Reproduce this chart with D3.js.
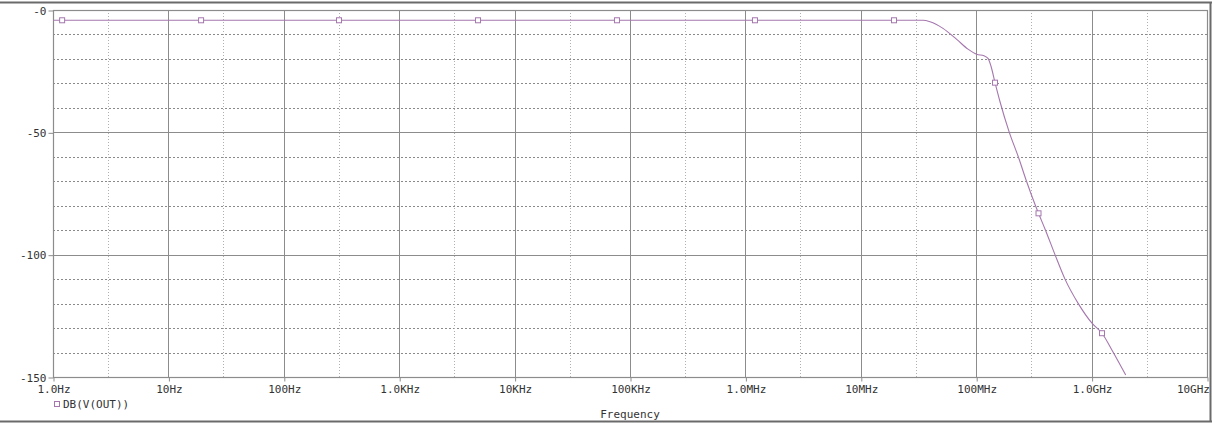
<!DOCTYPE html>
<html>
<head>
<meta charset="utf-8">
<script src="https://cdn.jsdelivr.net/npm/d3@7/dist/d3.min.js"></script>
<style>
  html, body { margin: 0; padding: 0; background: #fff; }
  svg { display: block; }
  text { font-family: "DejaVu Sans Mono", "Liberation Mono", monospace; fill: #333; }
</style>
</head>
<body>
<svg id="chart" width="1212" height="423"></svg>
<script>
// Frequency response of V(OUT), in dB
const freqHz = [1, 3.459e7, 3.979e7, 5.155e7, 6.776e7, 8.49e7, 1.01e8, 1.168e8, 1.266e8,
  1.344e8, 1.456e8, 1.608e8, 1.936e8, 2.316e8, 2.729e8, 3.265e8, 3.467e8, 3.986e8,
  4.817e8, 5.882e8, 7.669e8, 1.008e9, 1.231e9, 1.542e9, 1.975e9];
const gainDb = [-4.2, -4.2, -4.8, -7.5, -12.0, -16.0, -18.1, -18.7, -19.8,
  -23.0, -29.7, -37.5, -50.0, -60.0, -70.0, -80.0, -83.1, -90.0,
  -100.0, -110.0, -120.0, -128.0, -132.1, -140.0, -149.2];

// Trace symbols placed along the curve
const markerHz = [1.2, 19.2, 301, 4820, 77100, 1.21e6, 1.94e7, 1.456e8, 3.467e8, 1.231e9];
const markerDb = [-4.2, -4.2, -4.2, -4.2, -4.2, -4.2, -4.2, -29.7, -83.1, -132.1];

// Axis ticks
const xTickValues = [1, 10, 100, 1e3, 1e4, 1e5, 1e6, 1e7, 1e8, 1e9, 1e10];
const xTickLabels = ["1.0Hz", "10Hz", "100Hz", "1.0KHz", "10KHz", "100KHz", "1.0MHz", "10MHz", "100MHz", "1.0GHz", "10GHz"];
const yTickValues = [0, -50, -100, -150];
const yTickLabels = ["-0", "-50", "-100", "-150"];
const yMinorValues = [-10, -20, -30, -40, -60, -70, -80, -90, -110, -120, -130, -140];
const xMinorValues = [3, 30, 300, 3e3, 3e4, 3e5, 3e6, 3e7, 3e8, 3e9];

const traceName = "DB(V(OUT))";
const xTitle = "Frequency";

const traceColor = "#a577ae";
const svg = d3.select("#chart");
const plotLeft = 53, plotRight = 1207, plotTop = 10, plotBottom = 377;

const x = d3.scaleLog().domain([1, 1e10]).range([plotLeft, plotRight]);
const y = d3.scaleLinear().domain([0, -150]).range([plotTop, plotBottom]);

// Outer window frame
const frame = svg.append("g").attr("stroke", "#6a6a6a").attr("stroke-width", 2);
frame.append("line").attr("x1", 0).attr("x2", 1212).attr("y1", 2.5).attr("y2", 2.5);
frame.append("line").attr("x1", 0).attr("x2", 1212).attr("y1", 421.5).attr("y2", 421.5);
frame.append("line").attr("x1", 1210.5).attr("x2", 1210.5).attr("y1", 2).attr("y2", 422);

// Minor grid (dotted)
const grid = svg.append("g");
grid.selectAll(".hminor").data(yMinorValues).join("line")
  .attr("x1", plotLeft).attr("x2", plotRight)
  .attr("y1", d => Math.round(y(d)) + 0.5).attr("y2", d => Math.round(y(d)) + 0.5)
  .attr("stroke", "#8a8a8a").attr("stroke-dasharray", "2,2");
grid.selectAll(".vminor").data(xMinorValues).join("line")
  .attr("x1", d => Math.round(x(d)) + 0.5).attr("x2", d => Math.round(x(d)) + 0.5)
  .attr("y1", plotTop).attr("y2", plotBottom)
  .attr("stroke", "#b0b0b0").attr("stroke-dasharray", "1,2");

// Major grid (solid)
grid.selectAll(".hmajor").data(yTickValues.slice(1, -1)).join("line")
  .attr("x1", plotLeft).attr("x2", plotRight)
  .attr("y1", d => Math.round(y(d)) + 0.5).attr("y2", d => Math.round(y(d)) + 0.5)
  .attr("stroke", "#8c8c8c");
grid.selectAll(".vmajor").data(xTickValues.slice(1, -1)).join("line")
  .attr("x1", d => Math.round(x(d)) + 0.5).attr("x2", d => Math.round(x(d)) + 0.5)
  .attr("y1", plotTop).attr("y2", plotBottom)
  .attr("stroke", "#8c8c8c");

// Plot border
svg.append("rect")
  .attr("x", plotLeft + 0.5).attr("y", plotTop + 0.5)
  .attr("width", plotRight - plotLeft).attr("height", plotBottom - plotTop)
  .attr("fill", "none").attr("stroke", "#8c8c8c").attr("stroke-width", 1.2);

// Axes
const yAxis = d3.axisLeft(y).tickValues(yTickValues).tickSize(5).tickPadding(2)
  .tickFormat((d, i) => yTickLabels[i]);
const gy = svg.append("g").attr("transform", `translate(${plotLeft + 0.5},0.5)`).call(yAxis);
gy.select(".domain").remove();
gy.selectAll("line").attr("stroke", "#8c8c8c");
gy.selectAll("text").attr("font-size", 11).style("font-family", "DejaVu Sans Mono").attr("fill", "#333");

const xAxis = d3.axisBottom(x).tickValues(xTickValues).tickSize(4).tickPadding(4)
  .tickFormat((d, i) => xTickLabels[i]);
const gx = svg.append("g").attr("transform", `translate(0.5,${plotBottom + 0.5})`).call(xAxis);
gx.select(".domain").remove();
gx.selectAll("line").attr("stroke", "#8c8c8c");
gx.selectAll("text").attr("font-size", 11).style("font-family", "DejaVu Sans Mono").attr("fill", "#333");
gx.selectAll(".tick").filter(d => d === 1e10).select("text")
  .attr("text-anchor", "end").attr("x", 2);

// Trace
const pts = freqHz.map((f, i) => [f, gainDb[i]]);
svg.append("defs").append("clipPath").attr("id", "plotclip")
  .append("rect").attr("x", plotLeft).attr("y", plotTop)
  .attr("width", plotRight - plotLeft).attr("height", plotBottom - plotTop);
svg.append("path")
  .datum(pts)
  .attr("clip-path", "url(#plotclip)")
  .attr("fill", "none")
  .attr("stroke", traceColor)
  .attr("stroke-width", 1.1)
  .attr("d", d3.line().x(d => x(d[0])).y(d => y(d[1])).curve(d3.curveMonotoneX));

svg.append("g").selectAll("rect").data(markerHz.map((f, i) => [f, markerDb[i]])).join("rect")
  .attr("x", d => x(d[0]) - 2.5).attr("y", d => y(d[1]) - 2.5)
  .attr("width", 5).attr("height", 5)
  .attr("fill", "#fff").attr("stroke", traceColor).attr("stroke-width", 1);

// Legend
svg.append("rect").attr("x", 54.5).attr("y", 401.5).attr("width", 5).attr("height", 5)
  .attr("fill", "#fff").attr("stroke", traceColor);
svg.append("text").attr("x", 63).attr("y", 407.5).attr("font-size", 11).text(traceName);

// Axis title
svg.append("text").attr("x", (plotLeft + plotRight) / 2).attr("y", 418)
  .attr("text-anchor", "middle").attr("font-size", 11).text(xTitle);
</script>
</body>
</html>
